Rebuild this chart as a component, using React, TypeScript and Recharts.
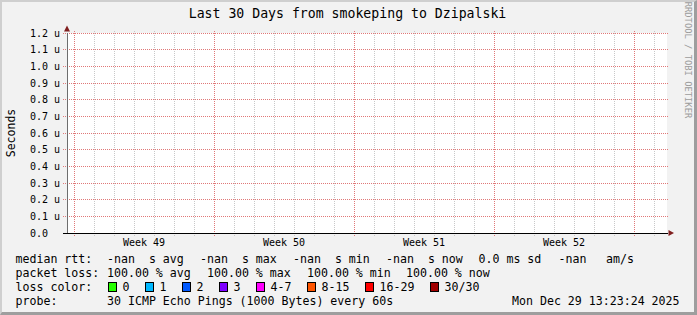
import React from "react";
import { ComposedChart, Line, XAxis, YAxis, CartesianGrid, ReferenceLine, ReferenceDot } from "recharts";

// sample days over the 30 day window, medians are all NaN (no replies)
const sampleDays = [0, 1, 2, 3, 4, 5, 6, 7, 8, 9, 10, 11, 12, 13, 14, 15, 16, 17, 18, 19, 20, 21, 22, 23, 24, 25, 26, 27, 28, 29, 30];
const medianRtt: (number | null)[] = [
  null, null, null, null, null, null, null, null, null, null, null, null, null, null, null, null,
  null, null, null, null, null, null, null, null, null, null, null, null, null, null, null,
];

const yTicks = [0, 0.1, 0.2, 0.3, 0.4, 0.5, 0.6, 0.7, 0.8, 0.9, 1.0, 1.1, 1.2];
const dayLines = [0.35, 1.35, 2.35, 3.35, 4.35, 5.35, 6.35, 7.35, 8.35, 9.35, 10.35, 11.35, 12.35, 13.35, 14.35, 15.35, 16.35, 17.35, 18.35, 19.35, 20.35, 21.35, 22.35, 23.35, 24.35, 25.35, 26.35, 27.35, 28.35, 29.35];
const weekStarts = [0.35, 7.35, 14.35, 21.35, 28.35];
const weekMids = [3.85, 10.85, 17.85, 24.85];
const weekLabels = ["Week 49", "Week 50", "Week 51", "Week 52"];

const rttValues = ["-nan", "-nan", "-nan", "-nan"];
const rttKinds = ["avg", "max", "min", "now"];
const rttSd = "0.0";
const rttAmS = "-nan";
const lossValues = ["100.00", "100.00", "100.00", "100.00"];
const lossBuckets = ["0", "1", "2", "3", "4-7", "8-15", "16-29", "30/30"];
const lossColors = ["#26ff00", "#00b8ff", "#0059ff", "#7e00ff", "#ff00ff", "#ff5500", "#ff0000", "#a10000"];
const probeText = "30 ICMP Echo Pings (1000 Bytes) every 60s";
const stamp = "Mon Dec 29 13:23:24 2025";

const FONT = "'DejaVu Sans Mono', monospace";
const GRID = "#c8c8c8";
const MGRID = "#e07878";
const ARROW = "#801f1f";

const data = sampleDays.map((d, i) => ({ day: d, rtt: medianRtt[i] }));

const YTick = (props: any) => {
  const { x, y, payload } = props;
  const v = payload.value as number;
  const label = v === 0 ? "0.0  " : `${v.toFixed(1)} u`;
  return (
    <text x={x} y={y + 3.6} textAnchor="end" fontFamily={FONT} fontSize={10} fill="#000" style={{ whiteSpace: "pre" }}>
      {label}
    </text>
  );
};

const WeekTick = (props: any) => {
  const { x, y, index } = props;
  return (
    <text x={x} y={y + 13} textAnchor="middle" fontFamily={FONT} fontSize={10} fill="#000">
      {weekLabels[index]}
    </text>
  );
};

const UpArrow = (props: any) => {
  const { cx, cy } = props;
  return <polygon points={`${cx - 3},${cy - 1.5} ${cx + 3},${cy - 1.5} ${cx},${cy - 7.5}`} fill={ARROW} />;
};

const RightArrow = (props: any) => {
  const { cx, cy } = props;
  return <polygon points={`${cx + 1.5},${cy - 3} ${cx + 1.5},${cy + 3} ${cx + 7},${cy}`} fill={ARROW} />;
};

// legend column starts, as rrdtool lays them out
const rttX = [107, 200, 293, 386];
const lossX = [107, 207, 307, 406];
const boxX = [108, 145, 182, 219, 256, 307, 365, 430];

const legendText = (x: number, y: number, s: string, key?: string) => (
  <text key={key} x={x} y={y} fontFamily={FONT} fontSize={11.6} fill="#000" style={{ whiteSpace: "pre" }}>
    {s}
  </text>
);

export default function App() {
  const minor = dayLines.filter((d) => !weekStarts.includes(d));
  return (
    <div style={{ position: "relative", width: 697, height: 315, background: "#f2f2f2" }}>
      <style>{"body{margin:0} .recharts-surface line{shape-rendering:crispEdges}"}</style>
      <div
        style={{
          position: "absolute",
          inset: 0,
          boxSizing: "border-box",
          borderTop: "2px solid #cfcfcf",
          borderLeft: "2px solid #cfcfcf",
          borderRight: "3px solid #9e9e9e",
          borderBottom: "3px solid #9e9e9e",
        }}
      />
      <div style={{ position: "absolute", left: 0, top: 0 }}>
        <ComposedChart width={697} height={315} data={data} margin={{ top: 33, right: 30, bottom: 62, left: 0 }}>
          <CartesianGrid vertical={false} horizontal={false} fill="#ffffff" fillOpacity={1} />
          <XAxis
            dataKey="day"
            type="number"
            domain={[0, 30]}
            allowDataOverflow
            ticks={weekMids}
            interval={0}
            tick={WeekTick}
            tickSize={0}
            tickMargin={0}
            axisLine={false}
            tickLine={false}
            height={20}
          />
          <YAxis
            type="number"
            domain={[0, 1.2]}
            allowDataOverflow
            ticks={yTicks}
            interval={0}
            width={67}
            tick={YTick}
            tickSize={4}
            tickMargin={3}
            axisLine={{ stroke: "#6e6e6e" }}
            tickLine={false}
          />
          {yTicks.filter((v) => v > 0).map((v) => (
            <ReferenceLine
              key={`h${v}`}
              segment={[{ x: -0.2, y: v }, { x: 30.05, y: v }]}
              stroke={MGRID}
              strokeDasharray="1 1"
              ifOverflow="visible"
            />
          ))}
          {minor.map((d) => (
            <ReferenceLine
              key={`m${d}`}
              segment={[{ x: d, y: 1.212 }, { x: d, y: -0.018 }]}
              stroke={GRID}
              strokeDasharray="1 1"
              ifOverflow="visible"
            />
          ))}
          {weekStarts.map((d) => (
            <ReferenceLine
              key={`w${d}`}
              segment={[{ x: d, y: 1.212 }, { x: d, y: -0.018 }]}
              stroke={MGRID}
              strokeDasharray="1 1"
              ifOverflow="visible"
            />
          ))}
          <ReferenceLine segment={[{ x: -0.2, y: 0 }, { x: 30.05, y: 0 }]} stroke="#000" ifOverflow="visible" />
          <Line dataKey="rtt" stroke="#00ff00" dot={false} isAnimationActive={false} connectNulls={false} />
          <ReferenceDot x={0} y={1.2} shape={UpArrow} ifOverflow="visible" />
          <ReferenceDot x={30} y={0} shape={RightArrow} ifOverflow="visible" />
        </ComposedChart>
      </div>
      <svg width={697} height={315} style={{ position: "absolute", left: 0, top: 0, pointerEvents: "none" }}>
        <text x={347.5} y={18.3} textAnchor="middle" fontFamily={FONT} fontSize={13.2} fill="#000">
          Last 30 Days from smokeping to Dzipalski
        </text>
        <text x={15} y={133} textAnchor="middle" fontFamily={FONT} fontSize={11.5} fill="#000" transform="rotate(-90 15 133)">
          Seconds
        </text>
        <text x={684.5} y={60} textAnchor="middle" fontFamily={FONT} fontSize={8.8} fill="#9c9c9c" transform="rotate(90 684.5 60)">
          RRDTOOL / TOBI OETIKER
        </text>

        {legendText(15.5, 263, "median rtt:")}
        {rttValues.map((v, i) => legendText(rttX[i], 263, `${v}  s ${rttKinds[i]}`, `r${i}`))}
        {legendText(478.5, 263, `${rttSd} ms sd`)}
        {legendText(558.5, 263, rttAmS)}
        {legendText(606, 263, "am/s")}

        {legendText(15.5, 277, "packet loss:")}
        {lossValues.map((v, i) => legendText(lossX[i], 277, `${v} % ${rttKinds[i]}`, `l${i}`))}

        {legendText(15.5, 291, "loss color:")}
        {lossBuckets.map((b, i) => (
          <g key={`b${i}`}>
            <rect x={boxX[i] + 0.5} y={282.5} width={8} height={9} fill={lossColors[i]} stroke="#000" strokeWidth={1} />
            {legendText(boxX[i] + 14.5, 291, b)}
          </g>
        ))}

        {legendText(15.5, 305, "probe:")}
        {legendText(107, 305, probeText)}
        {legendText(512, 305, stamp)}
      </svg>
    </div>
  );
}
